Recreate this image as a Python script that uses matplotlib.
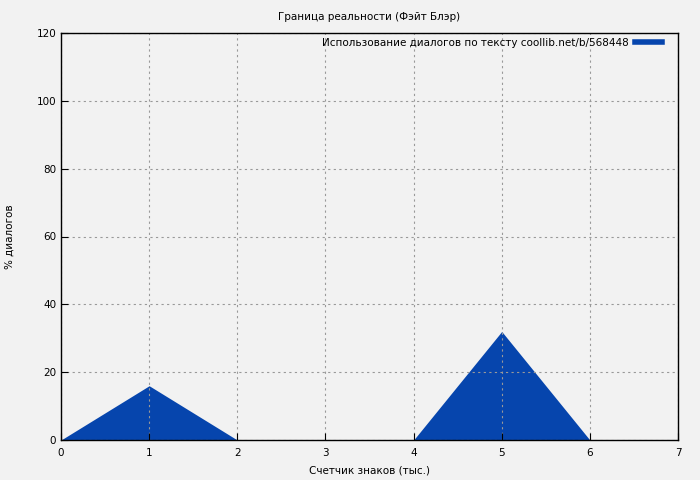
import matplotlib
matplotlib.use("Agg")
import matplotlib.pyplot as plt
from matplotlib.lines import Line2D

x_values = [0, 1, 2, 3, 4, 5, 6, 7]
dialog_pct = [0, 16, 0, 0, 0, 32, 0, 0]
title = "Граница реальности (Фэйт Блэр)"
xlabel = "Счетчик знаков (тыс.)"
ylabel = "% диалогов"
legend_label = "Использование диалогов по тексту coollib.net/b/568448"
color = "#0645ad"
bg = "#f2f2f2"

plt.rcParams['font.family'] = ['DejaVu Sans']
fig = plt.figure(figsize=(7, 4.8), dpi=100, facecolor=bg)
ax = fig.add_axes([61/700, 40/480, 617/700, 407/480])
ax.set_facecolor(bg)
ax.fill_between(x_values, dialog_pct, 0, color=color, linewidth=0)
ax.set_xlim(0, 7)
ax.set_ylim(0, 120)
ax.set_xticks(range(0, 8))
ax.set_yticks(range(0, 121, 20))
ax.grid(True, color="#999999", linestyle=(0, (2, 3)), linewidth=0.8)
ax.tick_params(direction="in", length=5, labelsize=7.5, top=False, right=False)
ax.tick_params(axis='x', pad=6)
for s in ax.spines.values():
    s.set_color("black")
    s.set_linewidth(1)
ax.set_title(title, fontsize=7.5, pad=9.5)
ax.set_xlabel(xlabel, fontsize=7.5, labelpad=5.5)
ax.set_ylabel(ylabel, fontsize=7.5, labelpad=15.5)
h = Line2D([], [], color=color, linewidth=4)
ax.legend([h], [legend_label], loc="upper right", bbox_to_anchor=(0.984, 1.003),
          frameon=False, fontsize=7.5,
          markerfirst=False, handlelength=2.6, borderaxespad=0.2, handletextpad=0.6)
fig.savefig("out.png", dpi=100, facecolor=bg)
